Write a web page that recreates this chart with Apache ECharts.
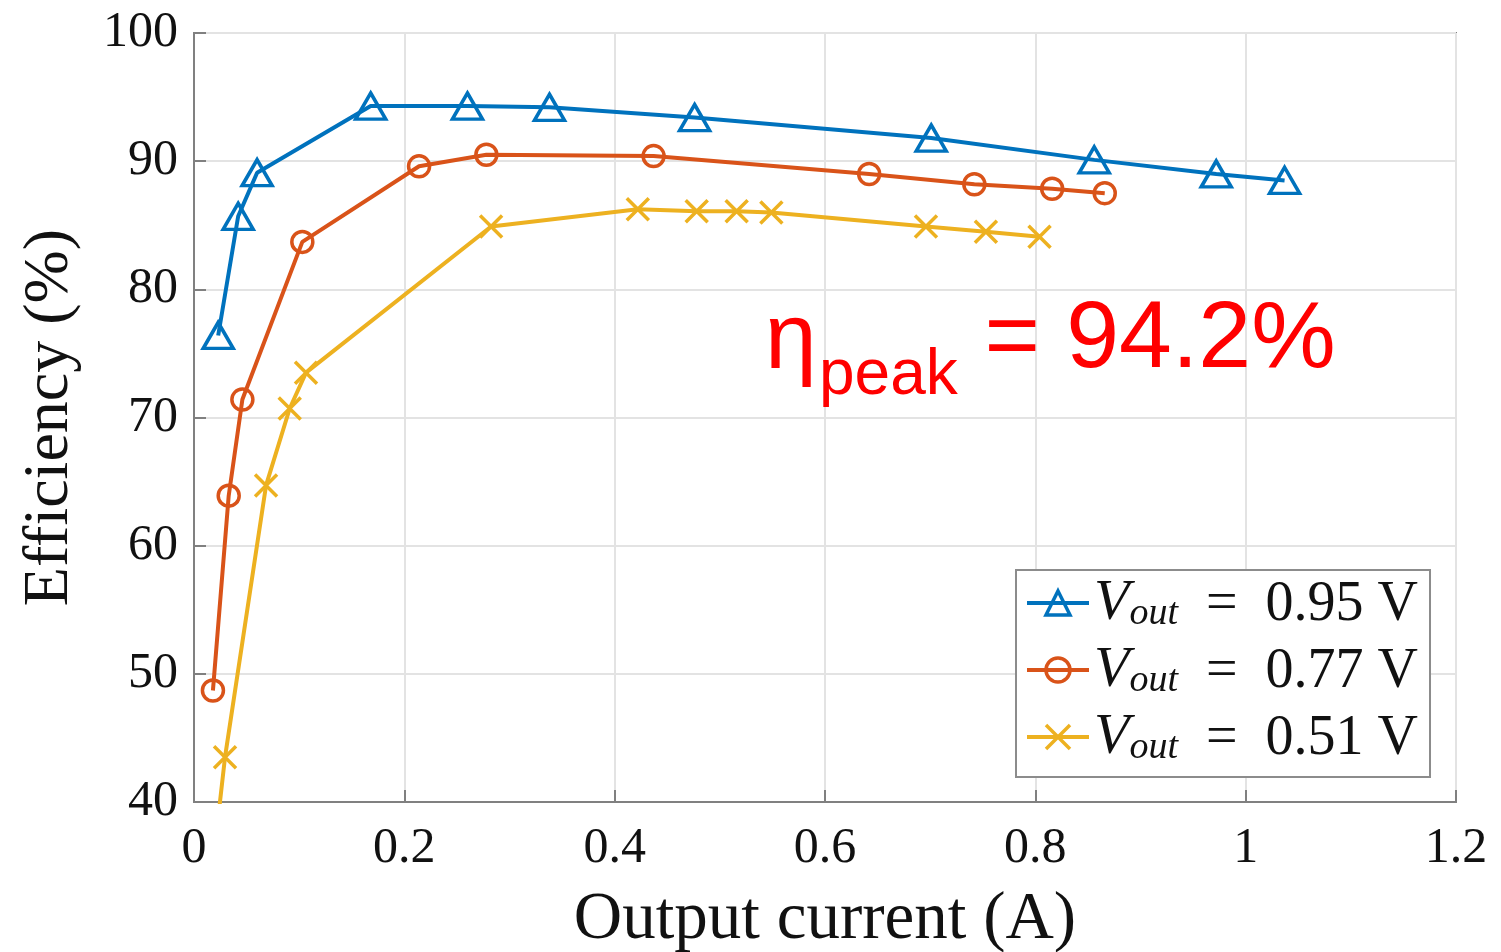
<!DOCTYPE html>
<html>
<head>
<meta charset="utf-8">
<script src="https://cdn.jsdelivr.net/npm/echarts@6/dist/echarts.min.js"></script>
<style>
  html,body{margin:0;padding:0;background:#fff;}
  #chart{width:1501px;height:952px;}
</style>
</head>
<body>
<div id="chart"></div>
<script>
// 输出电流 (A) 与效率 (%)
const x_095 = [0.023, 0.042, 0.060, 0.168, 0.260, 0.338, 0.476, 0.701, 0.856, 0.972, 1.037];
const y_095 = [76.4, 85.7, 89.1, 94.3, 94.3, 94.2, 93.4, 91.8, 90.1, 89.0, 88.5];

const x_077 = [0.018, 0.033, 0.046, 0.103, 0.214, 0.278, 0.437, 0.642, 0.742, 0.816, 0.866];
const y_077 = [48.7, 63.9, 71.4, 83.7, 89.6, 90.5, 90.4, 89.0, 88.2, 87.85, 87.5];

const x_051 = [0.020, 0.0295, 0.0685, 0.091, 0.1065, 0.2825, 0.422, 0.478, 0.516, 0.549, 0.696, 0.753, 0.804];
const y_051 = [36.6, 43.5, 64.7, 70.7, 73.5, 84.9, 86.25, 86.1, 86.1, 86.0, 84.9, 84.5, 84.1];

const names = ['Vout = 0.95 V', 'Vout = 0.77 V', 'Vout = 0.51 V'];
const legend_values = ['0.95', '0.77', '0.51'];
const colors = ['#0072BD', '#D95319', '#EDB120'];

const x_ticks = [0, 0.2, 0.4, 0.6, 0.8, 1, 1.2];
const y_ticks = [40, 50, 60, 70, 80, 90, 100];

const SERIF = '"Liberation Serif", "DejaVu Serif", serif';
const SANS = '"Liberation Sans", Arial, sans-serif';

function zip(xs, ys){
    let out = [];
    for(let i in xs){
        out.push([xs[i], ys[i]]);
    }
    return out;
}

let chart = echarts.init(document.getElementById('chart'), null, {renderer: 'canvas'});

let axis_common = {
    axisLine: {show: true, lineStyle: {color: '#808080', width: 2}},
    axisTick: {show: true, inside: true, length: 12, lineStyle: {color: '#808080', width: 2}},
    splitLine: {show: true, lineStyle: {color: '#e3e3e3', width: 2}},
    axisLabel: {color: '#111', fontFamily: SERIF, fontSize: 50},
    nameTextStyle: {color: '#111', fontFamily: SERIF, fontSize: 64}
};

function make_series(i, data, symbol, size){
    return {
        name: names[i],
        type: 'line',
        data: data,
        clip: true,
        symbol: symbol,
        symbolSize: size,
        showAllSymbol: true,
        lineStyle: {color: colors[i], width: 4},
        itemStyle: {color: 'rgba(255,255,255,0)', borderColor: colors[i], borderWidth: 3.5},
        emphasis: {disabled: true},
        z: 3 + i
    };
}

let option = {
    animation: false,
    backgroundColor: '#fff',
    grid: {
        left: 194, right: 45, top: 33, bottom: 150,
        outerBoundsMode: 'none',
        containLabel: false,
        show: true, borderColor: '#808080', borderWidth: 2
    },
    xAxis: Object.assign({}, axis_common, {
        type: 'value',
        min: x_ticks[0],
        max: x_ticks[x_ticks.length - 1],
        interval: 0.2,
        name: 'Output current (A)',
        nameLocation: 'middle',
        nameGap: 85,
        nameTextStyle: {color: '#111', fontFamily: SERIF, fontSize: 67},
        axisLabel: Object.assign({}, axis_common.axisLabel, {margin: 22})
    }),
    yAxis: Object.assign({}, axis_common, {
        type: 'value',
        min: y_ticks[0],
        max: y_ticks[y_ticks.length - 1],
        interval: 10,
        name: 'Efficiency (%)',
        nameLocation: 'middle',
        nameGap: 112,
        axisLabel: Object.assign({}, axis_common.axisLabel, {margin: 16})
    }),
    legend: {
        orient: 'vertical',
        left: 1016,
        top: 570,
        padding: [5, 12, 10, 9],
        itemGap: 9,
        itemWidth: 62,
        itemHeight: 30,
        backgroundColor: '#fff',
        borderColor: '#8c8c8c',
        borderWidth: 2,
        lineStyle: {width: 4},
        itemStyle: {borderWidth: 3.5},
        data: names,
        formatter: function(name){
            let i = names.indexOf(name);
            return '{v|V}{s|out}{t|\u2002=\u2002' + legend_values[i] + ' V}';
        },
        textStyle: {
            rich: {
                v: {fontFamily: SERIF, fontStyle: 'italic', fontSize: 58, color: '#111', lineHeight: 60, verticalAlign: 'bottom'},
                s: {fontFamily: SERIF, fontStyle: 'italic', fontSize: 38, color: '#111', lineHeight: 32, verticalAlign: 'bottom'},
                t: {fontFamily: SERIF, fontSize: 56, color: '#111', lineHeight: 60, verticalAlign: 'bottom'}
            }
        }
    },
    graphic: [
        {type: 'text', left: 765, top: 296, z: 10,
         style: {text: 'η', fontFamily: SANS, fontSize: 93, fill: '#ff0000'}},
        {type: 'text', left: 819, top: 344, z: 10,
         style: {text: 'peak', fontFamily: SANS, fontSize: 64, fill: '#ff0000'}},
        {type: 'text', left: 958, top: 293, z: 10,
         style: {text: ' = 94.2%', fontFamily: SANS, fontSize: 95, fill: '#ff0000'}}
    ],
    series: [
        make_series(0, zip(x_095, y_095), 'triangle', [30, 26]),
        make_series(1, zip(x_077, y_077), 'circle', 21),
        make_series(2, zip(x_051, y_051), 'path://M0,0L10,10M10,0L0,10', 22)
    ]
};

chart.setOption(option);
</script>
</body>
</html>
